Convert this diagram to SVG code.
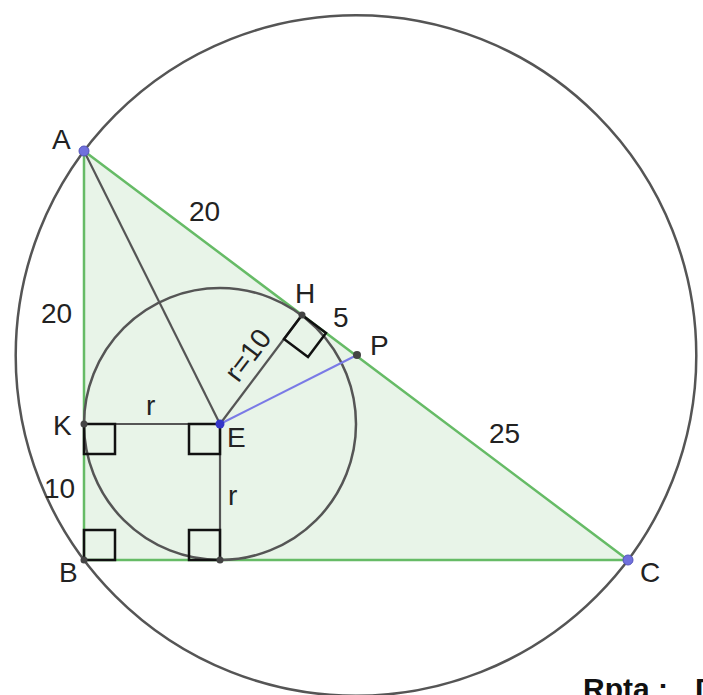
<svg xmlns="http://www.w3.org/2000/svg" width="703" height="695" viewBox="0 0 703 695">
<style>
.lbl{font-family:"Liberation Sans",Arial,sans-serif;font-size:28px;fill:#222}
.bold{font-family:"Liberation Sans",Arial,sans-serif;font-size:30px;font-weight:bold;fill:#111}
.circ{fill:none;stroke:#555;stroke-width:2.5}
.seg{stroke:#555;stroke-width:2.2;fill:none}
.sq{fill:none;stroke:#111;stroke-width:2.5}
.pt{fill:#444}
.bpt{fill:#7070dd;stroke:#5555bb;stroke-width:1}
</style>
<rect width="703" height="695" fill="#ffffff"/>
<g id="triangle">
<polygon points="84,151 84,560 628,560" fill="#e8f4e8" stroke="#66bb66" stroke-width="2.5" stroke-linejoin="round"/>
</g>
<g id="circumcircle"><circle class="circ" cx="356" cy="355.5" r="340.3"/></g>
<g id="incircle"><circle class="circ" cx="220" cy="424" r="136"/></g>
<g id="connectors">
<line class="seg" x1="84" y1="151" x2="220" y2="424"/>
<line class="seg" x1="84" y1="424" x2="220" y2="424"/>
<line class="seg" x1="220" y1="424" x2="220" y2="560"/>
<line class="seg" x1="220" y1="424" x2="302" y2="315"/>
<line x1="220" y1="424" x2="357" y2="355" stroke="#7a7ae6" stroke-width="2.2"/>
</g>
<g id="right-angles">
<rect class="sq" x="84" y="424" width="31" height="30"/>
<rect class="sq" x="189" y="424" width="31" height="30"/>
<rect class="sq" x="84" y="530" width="31" height="30"/>
<rect class="sq" x="189" y="530" width="31" height="30"/>
<polygon class="sq" points="302,315 326,333 308,357 284,339"/>
</g>
<g id="A"><circle class="bpt" cx="84" cy="151" r="5"/><text class="lbl" x="52" y="149">A</text></g>
<g id="B"><circle class="pt" cx="84" cy="560" r="3.5"/><text class="lbl" x="59" y="582">B</text></g>
<g id="C"><circle class="bpt" cx="628" cy="560" r="5"/><text class="lbl" x="640" y="582">C</text></g>
<g id="K"><circle class="pt" cx="84" cy="424" r="3.5"/><text class="lbl" x="53" y="435">K</text></g>
<g id="E"><circle cx="220" cy="424" r="4.5" fill="#3535c8"/><text class="lbl" x="227" y="447">E</text></g>
<g id="H"><circle class="pt" cx="302" cy="315" r="3.5"/><text class="lbl" x="295" y="303">H</text></g>
<g id="P"><circle class="pt" cx="357" cy="355" r="4"/><text class="lbl" x="370" y="355">P</text></g>
<g id="T"><circle class="pt" cx="220" cy="560" r="3.5"/></g>
<g id="labels">
<text class="lbl" x="189" y="221">20</text>
<text class="lbl" x="41" y="323">20</text>
<text class="lbl" x="44" y="498">10</text>
<text class="lbl" x="333" y="327">5</text>
<text class="lbl" x="489" y="443">25</text>
<text class="lbl" x="146" y="415">r</text>
<text class="lbl" x="228" y="505">r</text>
<text class="lbl" transform="translate(261,370) rotate(-53)" x="4" y="-10" text-anchor="middle">r=10</text>
<text class="bold" x="583" y="699">Rpta :<tspan x="695">D</tspan></text>
</g>
</svg>
